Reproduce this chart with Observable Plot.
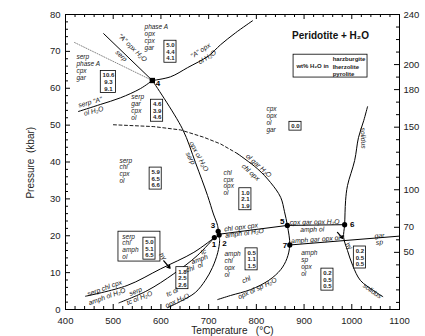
<!DOCTYPE html>
<html><head><meta charset="utf-8">
<script src="https://cdn.jsdelivr.net/npm/d3@7"></script>
<script src="https://cdn.jsdelivr.net/npm/@observablehq/plot@0.6"></script>
<style>body{margin:0;background:#fff}svg{display:block}</style>
</head><body><div id="chart"></div>
<script>
// ---------- axis ticks ----------
const xMajor = [400, 500, 600, 700, 800, 900, 1000, 1100];
const xMinor = d3.range(400, 1101, 20).filter(v => v % 100);
const yMajor = [0, 10, 20, 30, 40, 50, 60, 70, 80];
const yMinor = d3.range(0, 81, 2).filter(v => v % 10);
const depthLabels = [50, 70, 100, 150, 180, 200, 240];
const depthMinor = d3.range(10, 241, 10).filter(d => !depthLabels.includes(d));
const depthToP = d => 15.5 + (d - 50) / 2.946;   // km -> kbar (right axis)

// ---------- reaction curves [T (°C), P (kbar)] ----------
const serpALine   = [[480,74.8],[582,62.1]];
const serpLine    = [[582,62.1],[645,49],[672.5,39.8],[697.7,30.9],[710,25.9],[718.7,22.8],[720.8,20.6]];
const aOpxLine    = [[582,62.1],[620,63.1],[656,65.6],[700,68.8],[725,71.8],[756,75],[792,78.3]];
const serpAOlLine = [[427,53.7],[473,55.6],[515,57.4],[557,59.9],[582,62.1]];
const dottedLine  = [[419,72.4],[582,62.1]];
const dashedLine  = [[500.5,50.1],[585,49.6],[641,48.7],[690,46.7],[725,44.9],[760,42.3]];
const chlLine     = [[760,42.3],[802,38.2],[830,34.4],[851,30.4],[859,26.5],[865,22.8],[870,17.5],[864,13.8],[851,10.8],[826,7.9],[788,5.4],[746,3.8],[719,2.7]];
const line25      = [[721,20.4],[865,22.8]];
const line56      = [[865,22.8],[985,23]];
const garSpLine   = [[870,17.5],[1100,19.9]];
const solidus     = [[1033,55],[1025,51.2],[1014,46.6],[1006,40.4],[991,33.6],[987,29.5],[985,23],[983,19.5],[991,16],[1002,11.9],[1018,7.9],[1046,5.1],[1065,3.5]];
const serpChlLine = [[442,3.6],[529,6.5],[599,11],[669,15.5],[712,19.5]];
const serpTcLine  = [[512,1.8],[571,5.1],[627,9.7],[676,14.6],[712,19.5]];
const talcLine    = [[721,20.4],[723,18.7],[719,15.4],[708,11.4],[693,7.9],[672,4.6],[641,2.2],[614,0.5]];
const arrows      = [[606,13.2,619,11.2],[970,20.9,981,19.3]];

// ---------- invariant points ----------
const pointNames = ["4","5","6","7","3","1","2"];
const pointT     = [582, 865, 985, 870, 720, 712, 722];
const pointP     = [62.1, 22.8, 23, 17.5, 21.2, 19.5, 20.2];
const pointLabelT = [594, 854, 1001, 860, 709, 711, 733];
const pointLabelP = [61.2, 23.8, 23, 17.3, 22.8, 17.6, 18];

// ---------- assemblage labels ----------
const assemblages = [
  [565.6,76.4,"phase A\nopx\ncpx\ngar"],
  [423,68.2,"serp\nphase A\ncpx\ngar"],
  [538,57.4,"serp\ngar\ncpx\nol"],
  [513,40.2,"serp\nchl\ncpx\nol"],
  [731,36.9,"chl\ncpx\nopx\nol"],
  [821,54.1,"cpx\nopx\nol\ngar"],
  [519,19.6,"serp\nchl\namph\nol"],
  [733,14.8,"amph\nchl\nopx\nol"],
  [894,15.1,"amph\nsp\nopx\nol"]
];
const lineLabels = [
  [540.5,71.0,"\"A\" opx H₂O",44],
  [517,68.8,"serp",44],
  [683,70.2,"\"A\" opx",-33],
  [697,68.4,"ol H₂O",-33],
  [452,56.2,"serp \"A\"",-15],
  [459,53.8,"ol H₂O",-15],
  [679.5,41.5,"opx ol H₂O",62],
  [662,41,"serp",62],
  [805,39,"ol gar H₂O",42],
  [788,37.2,"chl opx",42],
  [768,22.3,"chl opx cpx",-7],
  [775,20.7,"amph ol H₂O",-7],
  [922,23.7,"cpx gar opx H₂O",-1],
  [917,21.7,"amph ol",-1],
  [924,19.0,"amph gar opx ol",-4],
  [1058,20,"gar",-5],
  [1058,18.2,"sp",-5],
  [779,8.1,"chl",-25],
  [802,5.7,"opx ol sp H₂O",-25],
  [1024,46.5,"solidus",88],
  [1043,5,"solidus",35],
  [482,5.8,"serp chl cpx",-20],
  [487,3.5,"amph ol H₂O",-20],
  [547,4.9,"serp",-22],
  [555,3.1,"tc ol H₂O",-22],
  [623.5,4.7,"tc ol",-25],
  [634,2.4,"opx H₂O",-25],
  [689,15.7,"tc",-20],
  [681,13.6,"amph",-20],
  [670,11.4,"chl  ol",-20],
  [604,14.4,"hy",50],
  [994,17.2,"hy",50]
];

// ---------- wt% H2O boxes (harzburgite / lherzolite / pyrolite) ----------
const boxT = [620, 490, 592, 589, 576, 645, 777, 790, 949, 1017, 882];
const boxP = [69.9, 61.7, 53.9, 35.5, 16.5, 8.5, 29.9, 13.6, 8.1, 14.1, 49.7];
const boxText = ["5.0\n4.4\n4.1","10.6\n9.3\n9.1","4.6\n3.9\n4.6","5.9\n6.5\n6.6","5.0\n5.1\n6.5",
                 "1.8\n2.5\n2.6","1.0\n2.1\n1.9","0.5\n1.1\n1.5","0.2\n0.5\n0.5","0.2\n0.5\n0.5","0.0"];
const outerBoxes = [[511,599,13,21.1],[878,1033,62.9,69.1]];

// ---------- helpers ----------
const kx = 700 / 334, ky = 80 / 295;   // data units per pixel
const boxes = boxT.map((t, i) => ({T: t, P: boxP[i], text: boxText[i]}));
const hw = d => (d3.max(d.text.split("\n"), s => s.length) * 3.2 + 2.5) / 2 * kx;
const hh = d => (d.text.split("\n").length * 6.6 + 2.2) / 2 * ky;
const pts = pointNames.map((n, i) => ({n, T: pointT[i], P: pointP[i], lT: pointLabelT[i], lP: pointLabelP[i]}));
const font = "Liberation Sans, Arial, Helvetica, sans-serif";
const L = (data, o = {}) => Plot.line(data, {x: d => d[0], y: d => d[1], stroke: "black", strokeWidth: 1, ...o});

const chart = Plot.plot({
  width: 425, height: 336,
  marginLeft: 65, marginRight: 26, marginTop: 14, marginBottom: 27,
  style: {fontFamily: font, background: "white"},
  x: {domain: [400, 1100], axis: null},
  y: {domain: [0, 80], axis: null},
  marks: [
    Plot.frame({stroke: "black", strokeWidth: 1}),
    // ticks (inside the frame)
    Plot.ruleX(xMajor, {x: d => d, y1: 0, y2: 5 * ky, stroke: "black"}),
    Plot.ruleX(xMinor, {x: d => d, y1: 0, y2: 3 * ky, stroke: "black"}),
    Plot.ruleX(xMajor, {x: d => d, y1: 80, y2: 80 - 5 * ky, stroke: "black"}),
    Plot.ruleX(xMinor, {x: d => d, y1: 80, y2: 80 - 3 * ky, stroke: "black"}),
    Plot.ruleY(yMajor, {y: d => d, x1: 400, x2: 400 + 5 * kx, stroke: "black"}),
    Plot.ruleY(yMinor, {y: d => d, x1: 400, x2: 400 + 3 * kx, stroke: "black"}),
    Plot.ruleY(depthLabels.map(depthToP), {y: d => d, x1: 1100 - 5 * kx, x2: 1100, stroke: "black"}),
    Plot.ruleY(depthMinor.map(depthToP), {y: d => d, x1: 1100 - 3 * kx, x2: 1100, stroke: "black"}),
    // tick labels
    Plot.text(xMajor, {x: d => d, y: 0, dy: 11, text: d => String(d), fontSize: 9.5, fill: "#222"}),
    Plot.text(yMajor, {x: 400, y: d => d, dx: -5, textAnchor: "end", text: d => String(d), fontSize: 9.5, fill: "#222"}),
    Plot.text(depthLabels, {x: 1100, y: depthToP, dx: 4, textAnchor: "start", text: d => String(d), fontSize: 9.5, fill: "#222"}),
    Plot.text(["Temperature   (°C)"], {x: 750, y: 0, dy: 21, text: d => d, fontSize: 10, fill: "#222"}),
    Plot.text(["Pressure  (kbar)"], {x: 400, y: 39.8, dx: -35, rotate: -90, text: d => d, fontSize: 10, fill: "#222"}),
    // curves
    L(dottedLine, {stroke: "#888", strokeDasharray: "1,1.5"}),
    L(dashedLine, {strokeDasharray: "3,2.5", strokeWidth: 0.9}),
    L(serpALine),
    L(serpLine, {curve: "catmull-rom"}),
    L(aOpxLine, {curve: "catmull-rom"}),
    L(serpAOlLine, {curve: "catmull-rom"}),
    L(chlLine, {curve: "catmull-rom"}),
    L(line25), L(line56), L(garSpLine),
    L(solidus, {curve: "catmull-rom"}),
    L(serpChlLine, {curve: "catmull-rom"}),
    L(serpTcLine, {curve: "catmull-rom"}),
    L(talcLine, {curve: "catmull-rom"}),
    Plot.arrow(arrows, {x1: d => d[0], y1: d => d[1], x2: d => d[2], y2: d => d[3], stroke: "black", strokeWidth: 1.3, headLength: 5}),
    // boxes
    Plot.rect(outerBoxes, {x1: d => d[0], x2: d => d[1], y1: d => d[2], y2: d => d[3], fill: "white", stroke: "black", strokeWidth: 0.8}),
    Plot.rect(boxes, {x1: d => d.T - hw(d), x2: d => d.T + hw(d), y1: d => d.P - hh(d), y2: d => d.P + hh(d), fill: "white", stroke: "black", strokeWidth: 0.8}),
    Plot.text(boxes, {x: "T", y: "P", text: "text", fontSize: 6, lineHeight: 1.1, fontWeight: "bold", fill: "#222"}),
    // labels
    Plot.text(assemblages, {x: d => d[0], y: d => d[1], text: d => d[2], textAnchor: "start", lineAnchor: "top", dy: -3.5, fontSize: 6.5, lineHeight: 1.05, fontStyle: "italic", fill: "#222"}),
    Plot.text(lineLabels, {x: d => d[0], y: d => d[1], text: d => d[2], rotate: d => d[3], fontSize: 6.8, fontStyle: "italic", fill: "#111"}),
    // legend and title
    Plot.text(["wt% H₂O in"], {x: 884, y: 66, text: d => d, textAnchor: "start", fontSize: 6, fontWeight: "bold", fill: "#222"}),
    Plot.text(["harzburgite\nlherzolite\npyrolite"], {x: 960, y: 66, text: d => d, textAnchor: "start", fontSize: 6, lineHeight: 1.25, fontWeight: "bold", fill: "#222"}),
    Plot.text(["Peridotite + H₂O"], {x: 955.5, y: 74.3, text: d => d, fontSize: 10, fontWeight: "bold", fill: "#111"}),
    // invariant points
    Plot.dot(pts.filter(d => d.n !== "4"), {x: "T", y: "P", r: 2.6, fill: "black"}),
    Plot.dot(pts.filter(d => d.n === "4"), {x: "T", y: "P", r: 3, symbol: "square", fill: "black"}),
    Plot.text(pts, {x: "lT", y: "lP", text: "n", fontSize: 8, fontWeight: "bold", fill: "black"})
  ]
});
document.getElementById("chart").appendChild(chart);
</script>
</body></html>
